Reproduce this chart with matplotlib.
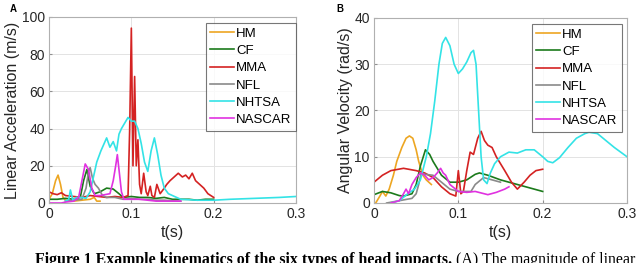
import matplotlib
matplotlib.use("Agg")
import matplotlib.pyplot as plt

plt.rcParams["font.family"] = ["Liberation Sans", "DejaVu Sans"]

series_names = ["HM", "CF", "MMA", "NFL", "NHTSA", "NASCAR"]
series_colors = ["#EDA622", "#1B7A1B", "#D42222", "#8A8A8A", "#33E3E6", "#E032E0"]

# Panel A: linear acceleration, (t, value)
hm_lin_t = [0.0, 0.004, 0.008, 0.011, 0.014, 0.017, 0.02, 0.03, 0.04, 0.05, 0.055, 0.058, 0.062]
hm_lin_v = [2, 5, 12, 15, 10, 3, 1.5, 1, 1.5, 2, 3, 1, 1]
cf_lin_t = [0.0, 0.01, 0.02, 0.03, 0.038, 0.042, 0.046, 0.05, 0.055, 0.062, 0.07, 0.078, 0.085, 0.09,
            0.1, 0.11, 0.12, 0.13, 0.14, 0.15, 0.16, 0.17, 0.18, 0.19, 0.2]
cf_lin_v = [2, 2, 2.5, 2, 3, 12, 18, 9, 5, 6, 8, 7.5, 5, 3, 3.5, 3, 3, 2.5, 3, 2, 2, 2, 1.5, 2, 2]
mma_lin_t = [0.0, 0.005, 0.01, 0.015, 0.02, 0.03, 0.04, 0.05, 0.06, 0.07, 0.08, 0.09, 0.096,
             0.098, 0.1, 0.102, 0.104, 0.106, 0.108, 0.11, 0.112, 0.115, 0.118, 0.12, 0.123, 0.125,
             0.128, 0.131, 0.135, 0.14, 0.143, 0.147, 0.152, 0.157, 0.162, 0.166, 0.17, 0.174,
             0.178, 0.183, 0.188, 0.193, 0.2]
mma_lin_v = [6, 5, 4.5, 5.5, 4, 3.5, 3, 4, 3.5, 3, 3.5, 3, 4, 40, 94, 20, 68, 20, 34, 10, 5, 16,
             6, 4, 9, 4, 3, 10, 5, 8, 10, 12, 14, 16, 14, 15, 13, 16, 12, 10, 8, 5, 3]
nfl_lin_t = [0.02, 0.03, 0.04, 0.045, 0.048, 0.05, 0.053, 0.056, 0.06, 0.065, 0.07, 0.08, 0.09,
             0.1, 0.11, 0.12, 0.13, 0.14, 0.15, 0.16]
nfl_lin_v = [1, 1.5, 2, 8, 17, 19, 13, 10, 8, 4, 3, 3, 2, 2.5, 2, 2, 1.5, 1.5, 1.2, 1]
nhtsa_lin_t = [0.02, 0.024, 0.026, 0.029, 0.033, 0.04, 0.045, 0.05, 0.054, 0.058, 0.063, 0.07,
               0.074, 0.078, 0.082, 0.085, 0.088, 0.092, 0.096, 0.1, 0.104, 0.108, 0.112, 0.116,
               0.12, 0.124, 0.128, 0.132, 0.136, 0.14, 0.145, 0.15, 0.16, 0.18, 0.2, 0.22, 0.25,
               0.28, 0.3]
nhtsa_lin_v = [1, 2, 7, 1.5, 3, 3, 2.5, 6, 14, 22, 28, 35, 30, 33, 28, 37, 40, 43, 46, 44, 44, 40,
               32, 22, 17, 28, 35, 26, 15, 8, 5, 4, 2, 1.5, 1.5, 2, 2.5, 3, 3.5]
nascar_lin_t = [0.0, 0.015, 0.02, 0.03, 0.036, 0.04, 0.044, 0.048, 0.052, 0.056, 0.062, 0.068,
                0.074, 0.078, 0.081, 0.083, 0.085, 0.088, 0.091, 0.1, 0.11, 0.12, 0.13, 0.14,
                0.15, 0.16]
nascar_lin_v = [0, 0, 0.5, 1, 3, 12, 21, 18, 8, 4, 4, 4.5, 5, 12, 20, 26, 18, 6, 2, 2, 2, 1.5,
                1, 1, 1, 1]

# Panel B: angular velocity
hm_ang_t = [0.002, 0.007, 0.01, 0.014, 0.018, 0.023, 0.027, 0.033, 0.038, 0.042, 0.046, 0.05,
            0.053, 0.058, 0.062, 0.068]
hm_ang_v = [0, 1.5, 2.5, 1.5, 3, 6, 9, 12, 14, 14.5, 14, 11.5, 9, 6, 5, 4]
cf_ang_t = [0.0, 0.01, 0.02, 0.03, 0.035, 0.045, 0.05, 0.055, 0.061, 0.066, 0.07, 0.08, 0.09,
            0.1, 0.11, 0.12, 0.125, 0.135, 0.15, 0.16, 0.18, 0.2]
cf_ang_v = [1.8, 2.5, 2.2, 1.6, 1.5, 2, 4, 8, 11.5, 10.5, 9, 6, 4.5, 4.5, 5, 6.2, 6.5, 6, 5,
            4.5, 3.5, 2.5]
mma_ang_t = [0.0, 0.01, 0.02, 0.035, 0.05, 0.06, 0.07, 0.08, 0.09, 0.097, 0.1, 0.103, 0.106,
             0.11, 0.114, 0.118, 0.123, 0.127, 0.131, 0.135, 0.14, 0.145, 0.155, 0.163, 0.17,
             0.178, 0.185, 0.192, 0.2]
mma_ang_v = [4.5, 6, 7, 7.5, 7, 6.5, 5.5, 3.5, 2, 1.5, 7, 2, 2.5, 7, 11, 10.5, 14, 15.5, 13.5,
             12.5, 12, 10, 7, 4.5, 3, 4.5, 6, 7, 7.3]
nfl_ang_t = [0.015, 0.03, 0.045, 0.05, 0.053, 0.056, 0.06, 0.07, 0.08, 0.09, 0.1, 0.11, 0.115,
             0.12, 0.13, 0.14, 0.15]
nfl_ang_v = [0, 0.5, 1, 2, 4, 6.5, 6.2, 6, 4.5, 3, 2.5, 2.5, 2.5, 4, 5.5, 5, 4.5]
nhtsa_ang_t = [0.02, 0.03, 0.04, 0.048, 0.055, 0.062, 0.067, 0.072, 0.077, 0.081, 0.085, 0.09,
               0.095, 0.1, 0.105, 0.11, 0.115, 0.118, 0.121, 0.124, 0.127, 0.13, 0.134, 0.138,
               0.143, 0.15, 0.155, 0.16, 0.17, 0.18, 0.19, 0.2, 0.206, 0.212, 0.22, 0.23, 0.24,
               0.25, 0.255, 0.265, 0.275, 0.285, 0.3]
nhtsa_ang_v = [0, 0.5, 2, 3, 5, 10, 15, 22, 30, 34.5, 35.8, 34, 30, 28, 29, 30.5, 32.5, 33,
               30, 20, 10, 5, 4.2, 6.5, 8.5, 10, 10.5, 11, 10.8, 11.5, 11.5, 10, 9, 8.7, 9.8,
               12, 14, 15, 15.3, 15, 13.5, 12, 10]
nascar_ang_t = [0.02, 0.03, 0.035, 0.038, 0.041, 0.045, 0.05, 0.055, 0.06, 0.065, 0.07, 0.075,
                0.079, 0.082, 0.085, 0.09, 0.1, 0.11, 0.12, 0.135, 0.145, 0.155, 0.16]
nascar_ang_v = [0, 0.5, 2, 3, 2, 4, 5.5, 6.5, 6, 5, 5.5, 6.5, 7.5, 6.5, 6, 4, 2.5, 2.3, 2.5,
                1.8, 2.3, 3, 3.5]

lin_t = [hm_lin_t, cf_lin_t, mma_lin_t, nfl_lin_t, nhtsa_lin_t, nascar_lin_t]
lin_v = [hm_lin_v, cf_lin_v, mma_lin_v, nfl_lin_v, nhtsa_lin_v, nascar_lin_v]
ang_t = [hm_ang_t, cf_ang_t, mma_ang_t, nfl_ang_t, nhtsa_ang_t, nascar_ang_t]
ang_v = [hm_ang_v, cf_ang_v, mma_ang_v, nfl_ang_v, nhtsa_ang_v, nascar_ang_v]

fig = plt.figure(figsize=(6.4, 2.63), dpi=100)
W, H = 640, 263
ax_a = fig.add_axes([49 / W, 60 / H, 247 / W, 186 / H])
ax_b = fig.add_axes([374 / W, 60 / H, 253 / W, 185 / H])


def style_axes(ax, ymax, ystep, ylabel):
    ax.set_xlim(0, 0.3)
    ax.set_ylim(0, ymax)
    ax.set_xticks([0, 0.1, 0.2, 0.3])
    ax.set_xticklabels(["0", "0.1", "0.2", "0.3"])
    ax.set_yticks(list(range(0, ymax + 1, ystep)))
    ax.grid(True, color="#e3e3e3", linewidth=0.7)
    ax.set_axisbelow(True)
    for s in ax.spines.values():
        s.set_color("#b0b0b0")
        s.set_linewidth(0.8)
    ax.tick_params(direction="in", length=2.5, color="#909090", labelsize=10,
                   labelcolor="#262626", pad=3)
    ax.set_xlabel("t(s)", fontsize=11.5, color="#262626", labelpad=3)
    ax.set_ylabel(ylabel, fontsize=11.5, color="#262626", labelpad=1)


for ax, ts, vs in [(ax_a, lin_t, lin_v), (ax_b, ang_t, ang_v)]:
    for name, color, t, v in zip(series_names, series_colors, ts, vs):
        ax.plot(t, v, color=color, linewidth=1.2, label=name)

style_axes(ax_a, 100, 20, "Linear Acceleration (m/s)")
style_axes(ax_b, 40, 10, "Angular Velocity (rad/s)")

for ax, anchor in [(ax_a, (1.0, 0.968)), (ax_b, (0.98, 0.968))]:
    leg = ax.legend(loc="upper right", bbox_to_anchor=anchor, borderaxespad=0,
                    fontsize=9.5, frameon=True, fancybox=False, handlelength=1.8,
                    handletextpad=0.15, labelspacing=0.38, borderpad=0.35)
    leg.get_frame().set_edgecolor("#555555")
    leg.get_frame().set_linewidth(0.8)

fig.text(10 / W, 1 - 9 / H, "A", fontsize=7, fontweight="bold", va="center")
fig.text(336 / W, 1 - 9 / H, "B", fontsize=7, fontweight="bold", va="center")

cap1 = fig.text(35 / W, 1 - 264 / H, "Figure 1 Example kinematics of the six types of head impacts.",
                family="Liberation Serif", fontweight="bold", fontsize=11.4, va="baseline")
plt.annotate(" (A) The magnitude of linear", xy=(1, 0), xycoords=cap1, va="bottom",
             family="Liberation Serif", fontsize=11.4, annotation_clip=False)

fig.savefig("out.png", dpi=100)
